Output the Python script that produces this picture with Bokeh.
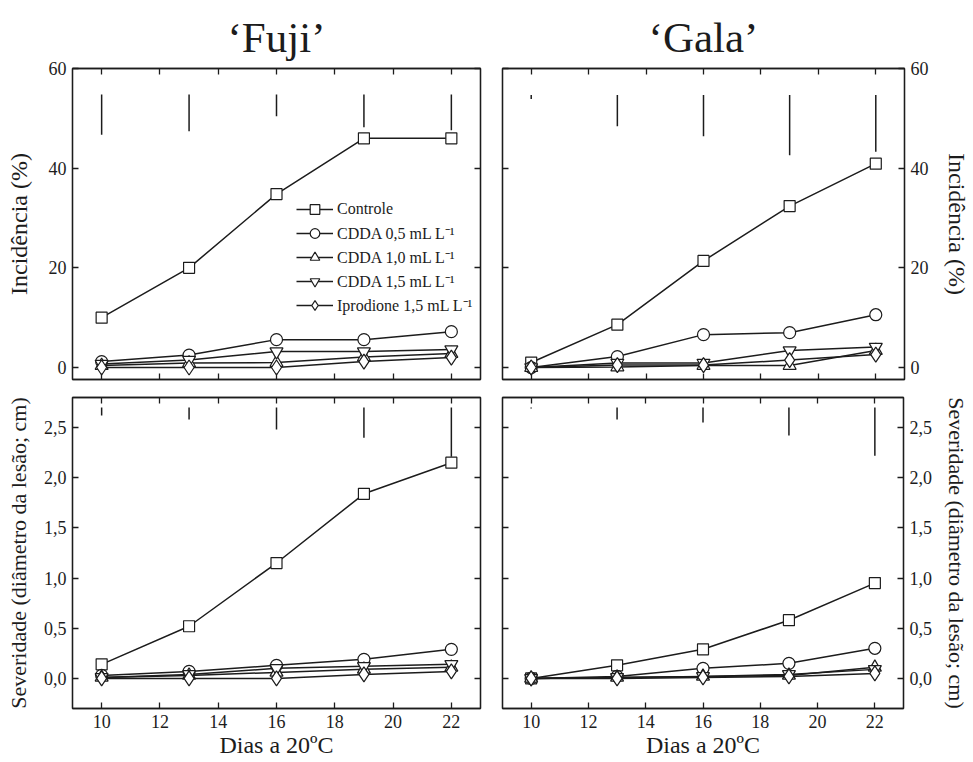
from bokeh.plotting import figure
from bokeh.layouts import column, row
from bokeh.models import LinearAxis, FixedTicker, Legend, LegendItem, Range1d, Title
from bokeh.embed import file_html
from bokeh.resources import INLINE

# ---------------- data ----------------
days = [10, 13, 16, 19, 22]
x_ticks = [10, 12, 14, 16, 18, 20, 22]
inc_ticks = [0, 20, 40, 60]
sev_ticks = [0.0, 0.5, 1.0, 1.5, 2.0, 2.5]
sev_tick_labels = ["0,0", "0,5", "1,0", "1,5", "2,0", "2,5"]

series_names = ["Controle", "CDDA 0,5 mL L⁻¹", "CDDA 1,0 mL L⁻¹",
                "CDDA 1,5 mL L⁻¹", "Iprodione 1,5 mL L⁻¹"]

# 'Fuji' - incidence (%)
fuji_inc_controle = [10.0, 20.0, 34.8, 46.0, 46.0]
fuji_inc_cdda05 = [1.2, 2.5, 5.6, 5.6, 7.2]
fuji_inc_cdda10 = [0.4, 0.9, 1.0, 2.1, 2.8]
fuji_inc_cdda15 = [0.7, 1.5, 3.2, 3.2, 3.6]
fuji_inc_iprodione = [0.0, 0.0, 0.0, 1.2, 2.0]
fuji_inc_bar_top = 54.8
fuji_inc_bar_len = [8.1, 7.4, 4.4, 6.6, 7.2]

# 'Gala' - incidence (%)
gala_inc_controle = [1.0, 8.6, 21.4, 32.4, 40.9]
gala_inc_cdda05 = [0.0, 2.2, 6.6, 7.0, 10.6]
gala_inc_cdda10 = [0.0, 0.1, 0.4, 0.4, 3.4]
gala_inc_cdda15 = [0.0, 0.9, 0.9, 3.4, 4.1]
gala_inc_iprodione = [0.0, 0.5, 0.5, 1.5, 2.6]
gala_inc_bar_top = 54.7
gala_inc_bar_len = [0.8, 6.3, 8.3, 12.1, 11.4]

# 'Fuji' - severity (lesion diameter, cm)
fuji_sev_controle = [0.14, 0.52, 1.15, 1.84, 2.15]
fuji_sev_cdda05 = [0.03, 0.07, 0.13, 0.19, 0.29]
fuji_sev_cdda10 = [0.01, 0.03, 0.06, 0.09, 0.11]
fuji_sev_cdda15 = [0.01, 0.04, 0.10, 0.12, 0.14]
fuji_sev_iprodione = [0.0, 0.0, 0.0, 0.04, 0.07]
fuji_sev_bar_top = 2.70
fuji_sev_bar_len = [0.08, 0.12, 0.22, 0.30, 0.49]

# 'Gala' - severity (lesion diameter, cm)
gala_sev_controle = [0.0, 0.13, 0.29, 0.58, 0.95]
gala_sev_cdda05 = [0.0, 0.02, 0.10, 0.15, 0.30]
gala_sev_cdda10 = [0.0, 0.01, 0.02, 0.03, 0.11]
gala_sev_cdda15 = [0.0, 0.01, 0.02, 0.04, 0.09]
gala_sev_iprodione = [0.0, 0.0, 0.01, 0.02, 0.05]
gala_sev_bar_top = 2.70
gala_sev_bar_len = [0.01, 0.12, 0.15, 0.28, 0.48]

# ---------------- style ----------------
INK = "#1c1c1c"
FONT = "Liberation Serif"
marker_styles = [("square", 11), ("circle", 12), ("triangle", 13),
                 ("inverted_triangle", 13), ("diamond", 15)]


def style_axis(ax, labels):
    ax.axis_line_color = INK
    ax.axis_line_width = 1.3
    ax.major_tick_in = 6
    ax.major_tick_out = 0
    ax.major_tick_line_color = INK
    ax.major_tick_line_width = 1.3
    ax.minor_tick_line_color = None
    ax.major_label_text_font = FONT
    ax.major_label_text_color = INK
    ax.axis_label_text_font = FONT
    ax.axis_label_text_font_style = "normal"
    ax.axis_label_text_color = INK
    if labels:
        ax.major_label_text_font_size = "18px"
        ax.major_label_standoff = 6
    else:
        # tick marks only: labels are not painted at all
        ax.major_label_text_font_size = "1px"
        ax.major_label_text_alpha = 0
        ax.major_label_standoff = 0


def make_panel(series, bar_top, bar_len, ylo, yhi, yticks, ylabels, ylabel,
               ylabel_size, ylabel_standoff, side, top_row, title=None,
               legend=False):
    left_col = side == "left"
    b_left = 72 if left_col else 11
    b_right = 11 if left_col else 64
    b_top = 68 if top_row else 9
    b_bottom = 9 if top_row else 53
    frame_w = 408 if left_col else 406
    frame_h = 311
    p = figure(width=b_left + frame_w + b_right,
               height=b_top + frame_h + b_bottom,
               x_range=Range1d(9, 23),
               y_range=Range1d(ylo, yhi), output_backend="svg",
               toolbar_location=None, x_axis_location=None,
               y_axis_location=None,
               min_border_left=b_left, min_border_right=b_right,
               min_border_top=b_top, min_border_bottom=b_bottom)
    p.grid.grid_line_color = None
    p.outline_line_color = INK
    p.outline_line_width = 1.3
    p.background_fill_color = "white"
    p.border_fill_color = "white"

    # x axes
    bottom = LinearAxis(ticker=FixedTicker(ticks=x_ticks))
    style_axis(bottom, not top_row)
    if not top_row:
        bottom.axis_label = "Dias a 20ºC"
        bottom.axis_label_text_font_size = "24px"
        bottom.axis_label_standoff = 1
    p.add_layout(bottom, "below")
    topax = LinearAxis(ticker=FixedTicker(ticks=x_ticks))
    style_axis(topax, False)
    p.add_layout(topax, "above")

    # y axes
    for loc in ("left", "right"):
        ax = LinearAxis(ticker=FixedTicker(ticks=yticks))
        labelled = (loc == side)
        style_axis(ax, labelled)
        if ylabels is not None and labelled:
            ax.major_label_overrides = {t: l for t, l in zip(yticks, ylabels)}
        if labelled:
            ax.axis_label = ylabel
            ax.axis_label_text_font_size = ylabel_size
            ax.axis_label_standoff = ylabel_standoff
        p.add_layout(ax, loc)

    if title is not None:
        p.add_layout(Title(text=title, align="center", text_font=FONT,
                           text_font_size="43px", text_font_style="normal",
                           text_color=INK, offset=0, standoff=16), "above")

    # reference bars at the top
    p.segment(x0=days, y0=[bar_top] * len(days), x1=days,
              y1=[bar_top - b for b in bar_len], line_color=INK,
              line_width=1.5)

    items = []
    for name, vals, (mk, sz) in zip(series_names, series, marker_styles):
        ln = p.line(days, vals, line_color=INK, line_width=1.5)
        sc = p.scatter(days, vals, marker=mk, size=sz, fill_color="white",
                       line_color=INK, line_width=1.2)
        items.append(LegendItem(label=name, renderers=[ln, sc]))

    if legend:
        lg = Legend(items=items, location=(224, 62), padding=0, margin=0,
                    spacing=0, glyph_width=37, glyph_height=24,
                    label_height=24, label_standoff=4,
                    label_text_font=FONT, label_text_font_size="16px",
                    label_text_color=INK, border_line_color=None,
                    background_fill_alpha=0)
        p.add_layout(lg, "center")
    return p


p_tl = make_panel([fuji_inc_controle, fuji_inc_cdda05, fuji_inc_cdda10,
                   fuji_inc_cdda15, fuji_inc_iprodione],
                  fuji_inc_bar_top, fuji_inc_bar_len, -2.4, 60, inc_ticks,
                  None, "Incidência (%)", "24px", 14, "left", True,
                  title="‘Fuji’", legend=True)
p_tr = make_panel([gala_inc_controle, gala_inc_cdda05, gala_inc_cdda10,
                   gala_inc_cdda15, gala_inc_iprodione],
                  gala_inc_bar_top, gala_inc_bar_len, -2.4, 60, inc_ticks,
                  None, "Incidência (%)", "24px", 12, "right", True,
                  title="‘Gala’")
p_bl = make_panel([fuji_sev_controle, fuji_sev_cdda05, fuji_sev_cdda10,
                   fuji_sev_cdda15, fuji_sev_iprodione],
                  fuji_sev_bar_top, fuji_sev_bar_len, -0.3, 2.8, sev_ticks,
                  sev_tick_labels, "Severidade (diâmetro da lesão; cm)",
                  "22px", 10, "left", False)
p_br = make_panel([gala_sev_controle, gala_sev_cdda05, gala_sev_cdda10,
                   gala_sev_cdda15, gala_sev_iprodione],
                  gala_sev_bar_top, gala_sev_bar_len, -0.3, 2.8, sev_ticks,
                  sev_tick_labels, "Severidade (diâmetro da lesão; cm)",
                  "22px", 9, "right", False)

layout = column(row(p_tl, p_tr), row(p_bl, p_br))
open("out.html", "w").write(file_html(layout, INLINE))
